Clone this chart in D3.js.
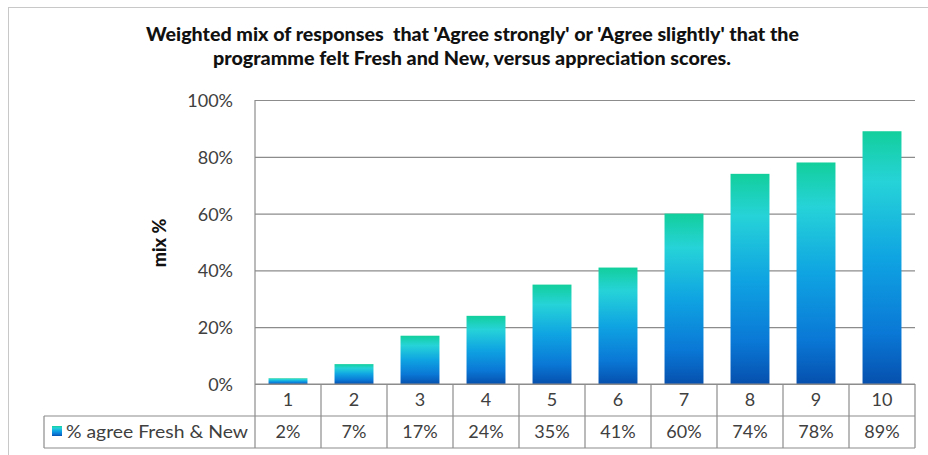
<!DOCTYPE html>
<html><head><meta charset="utf-8">
<script src="https://cdn.jsdelivr.net/npm/d3@7"></script>
<style>html,body{margin:0;padding:0;background:#fff;}svg{display:block;}</style>
</head><body>
<svg id="chart" width="928" height="455"></svg>
<script>
const categories = ["1","2","3","4","5","6","7","8","9","10"];
const values = [2, 7, 17, 24, 35, 41, 60, 74, 78, 89];
const valueLabels = ["2%","7%","17%","24%","35%","41%","60%","74%","78%","89%"];
const yTicks = [0, 20, 40, 60, 80, 100];
const seriesName = "% agree Fresh & New";
const titleLines = ["Weighted mix of responses  that 'Agree strongly' or 'Agree slightly' that the",
                    "programme felt Fresh and New, versus appreciation scores."];
const yTitle = "mix %";

const svg = d3.select("#chart");
const font = "Lato, 'Open Sans', sans-serif";
const L = 255, R = 915, T = 100, B = 384;
const rowH = 32, legendLeft = 44;

// outer frame
svg.append("line").attr("x1",8).attr("x2",928).attr("y1",7.5).attr("y2",7.5).attr("stroke","#c8c8c8");
svg.append("line").attr("x1",8.5).attr("x2",8.5).attr("y1",7).attr("y2",455).attr("stroke","#c8c8c8");

const defs = svg.append("defs");
const grad = defs.append("linearGradient").attr("id","barGrad").attr("x1",0).attr("y1",0).attr("x2",0).attr("y2",1);
[[0,"#12cf9c"],[0.2,"#26d3d8"],[0.5,"#0fa4e2"],[0.8,"#0a78d6"],[1,"#0650ae"]].forEach(([o,c])=>
  grad.append("stop").attr("offset",o).attr("stop-color",c));

const x = d3.scaleBand().domain(categories).range([L, R]).paddingInner(0.41).paddingOuter(0.205);
const xCol = d3.scaleBand().domain(categories).range([L, R]);
const y = d3.scaleLinear().domain([0,100]).range([B, T]);

// gridlines
const yAxis = d3.axisLeft(y).tickValues(yTicks).tickFormat(d=>d+"%").tickSize(-(R-L)).tickPadding(22);
const gy = svg.append("g").attr("transform",`translate(${L},0)`).call(yAxis);
gy.select(".domain").remove();
gy.selectAll(".tick line").attr("stroke","#8c8c8c").attr("stroke-width",1.2);
gy.selectAll(".tick text").attr("font-family",font).attr("font-size",18).attr("fill","#404040").attr("dy","0.36em");

// axis line
svg.append("line").attr("x1",L).attr("x2",L).attr("y1",T).attr("y2",B).attr("stroke","#8c8c8c").attr("stroke-width",1.2);

// bars
svg.append("g").selectAll("rect").data(values).join("rect")
  .attr("x",(d,i)=>x(categories[i])).attr("width",x.bandwidth())
  .attr("y",d=>y(d)).attr("height",d=>B-y(d)).attr("fill","url(#barGrad)");

// data table
const tg = svg.append("g").attr("stroke","#8c8c8c").attr("stroke-width",1.2).attr("fill","none");
tg.append("line").attr("x1",L).attr("x2",R).attr("y1",B).attr("y2",B);
tg.append("line").attr("x1",legendLeft).attr("x2",R).attr("y1",B+rowH).attr("y2",B+rowH);
tg.append("line").attr("x1",legendLeft).attr("x2",R).attr("y1",B+2*rowH).attr("y2",B+2*rowH);
tg.append("line").attr("x1",legendLeft).attr("x2",legendLeft).attr("y1",B+rowH).attr("y2",B+2*rowH);
tg.selectAll("line.v").data(categories.concat(["end"])).join("line").attr("class","v")
  .attr("x1",(d,i)=>L+i*xCol.bandwidth()).attr("x2",(d,i)=>L+i*xCol.bandwidth())
  .attr("y1",B).attr("y2",B+2*rowH);

svg.append("g").selectAll("text").data(categories).join("text")
  .attr("x",d=>xCol(d)+xCol.bandwidth()/2).attr("y",B+rowH/2).attr("dy","0.36em")
  .attr("text-anchor","middle").attr("font-family",font).attr("font-size",18).attr("fill","#404040").text(d=>d);
svg.append("g").selectAll("text").data(valueLabels).join("text")
  .attr("x",(d,i)=>xCol(categories[i])+xCol.bandwidth()/2).attr("y",B+rowH*1.5).attr("dy","0.36em")
  .attr("text-anchor","middle").attr("font-family",font).attr("font-size",18).attr("fill","#404040").text(d=>d);

// legend key
svg.append("rect").attr("x",52).attr("y",426).attr("width",10).attr("height",10).attr("fill","url(#barGrad)");
svg.append("text").attr("x",66).attr("y",B+rowH*1.5).attr("dy","0.36em")
  .attr("font-family",font).attr("font-size",18).attr("fill","#404040")
  .attr("textLength",182).attr("lengthAdjust","spacingAndGlyphs").text(seriesName);

// title
const titleExt = [[146,799,41],[213,731,65]];
svg.append("g").selectAll("text").data(titleLines).join("text")
  .attr("x",(d,i)=>titleExt[i][0]).attr("y",(d,i)=>titleExt[i][2])
  .attr("textLength",(d,i)=>titleExt[i][1]-titleExt[i][0]).attr("lengthAdjust","spacingAndGlyphs")
  .style("white-space","pre")
  .attr("font-family",font).attr("font-weight",900).attr("font-size",18).attr("fill","#111").text(d=>d);

// y title
svg.append("text").attr("transform","translate(166,243) rotate(-90)").attr("text-anchor","middle")
  .attr("font-family",font).attr("font-weight",900).attr("font-size",18).attr("fill","#111").text(yTitle);
</script>
</body></html>
